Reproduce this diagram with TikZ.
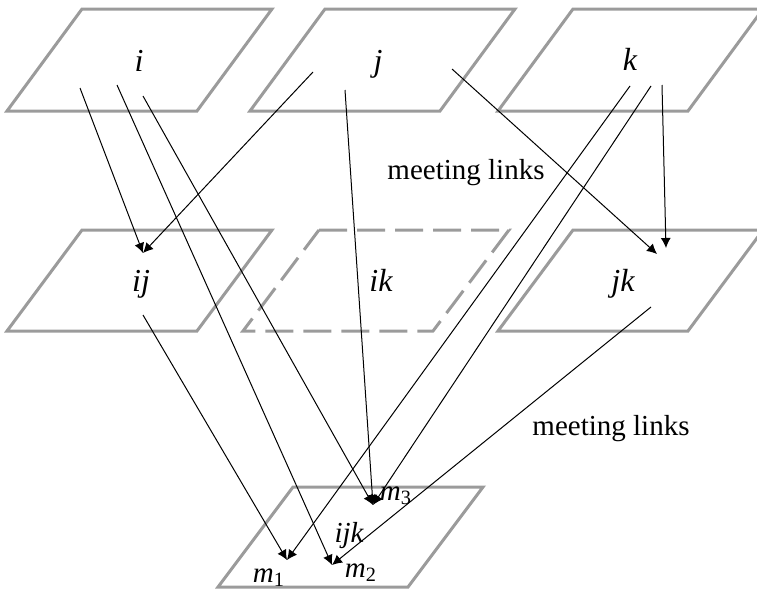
\documentclass[tikz,border=0pt]{standalone}
\usepackage{fontspec}
\setmainfont{Liberation Serif}
\usetikzlibrary{arrows.meta}
\definecolor{planegray}{RGB}{155,155,155}
\tikzset{
  plane/.style={draw=planegray, line width=1.5pt},
  hidden/.style={plane, dash pattern=on 14pt off 5pt},
  link/.style={-{Latex[length=5pt, width=5pt]}, line width=0.5pt},
  lab/.style={inner sep=0pt, anchor=base, font=\fontsize{16}{19}\selectfont\itshape},
  note/.style={inner sep=0pt, anchor=base},
  every node/.style={font=\fontsize{14.5}{17}\selectfont}
}

\begin{document}
\begin{tikzpicture}[x=0.5pt, y=-0.5pt]
    \useasboundingbox (0,0) rectangle (757,589);

    \draw[plane] (82,9) -- (272,9) -- (197,111) -- (7,111) -- cycle;
    \draw[plane] (325,9) -- (515,9) -- (440,111) -- (250,111) -- cycle;
    \draw[plane] (573,9) -- (763,9) -- (688,111) -- (498,111) -- cycle;
    \draw[plane] (82,230) -- (272,230) -- (197,331) -- (7,331) -- cycle;
    \draw[hidden] (319,230) -- (509,230) -- (433,331) -- (243,331) -- cycle;
    \draw[plane] (573,230) -- (763,230) -- (688,331) -- (498,331) -- cycle;
    \draw[plane] (293,487) -- (483,487) -- (408,587) -- (218,587) -- cycle;

    \node[lab] (i) at (139,71) {i};
    \node[lab] (j) at (378,71) {j};
    \node[lab] (k) at (630,70) {k};
    \node[lab] (ij) at (141,292) {ij};
    \node[lab] (ik) at (381,292) {ik};
    \node[lab] (jk) at (623,292) {jk};
    \node[lab, font=\fontsize{14.5}{17}\selectfont\itshape] (ijk) at (349,542) {ijk};
    \node[note] (m1) at (269,582) {\textit{m}\textsubscript{1}};
    \node[note] (m2) at (361,577) {\textit{m}\textsubscript{2}};
    \node[note] (m3) at (396,500) {\textit{m}\textsubscript{3}};
    \node[note] (meet1) at (466,179) {meeting links};
    \node[note] (meet2) at (611,435) {meeting links};

    \coordinate (i1) at (80,88);
    \coordinate (i2) at (117,85);
    \coordinate (i3) at (143,96);
    \coordinate (j1) at (313,72);
    \coordinate (j2) at (345,90);
    \coordinate (j3) at (452,69);
    \coordinate (k1) at (630,86);
    \coordinate (k2) at (651,86);
    \coordinate (k3) at (662,85);
    \coordinate (ij0) at (143,315);
    \coordinate (jk0) at (651,307);
    \coordinate (ijin) at (143,253);
    \coordinate (jkin1) at (657,254);
    \coordinate (jkin2) at (666,248);
    \coordinate (m1in) at (287,560);
    \coordinate (m2in) at (332,565);
    \coordinate (m3in) at (373,505);

    \draw[link] (i1) -- (ijin);
    \draw[link] (j1) -- (ijin);
    \draw[link] (i2) -- (m2in);
    \draw[link] (i3) -- (m3in);
    \draw[link] (j2) -- (m3in);
    \draw[link] (j3) -- (jkin1);
    \draw[link] (k3) -- (jkin2);
    \draw[link] (k1) -- (m1in);
    \draw[link] (k2) -- (m3in);
    \draw[link] (ij0) -- (m1in);
    \draw[link] (jk0) -- (m2in);
\end{tikzpicture}
\end{document}
